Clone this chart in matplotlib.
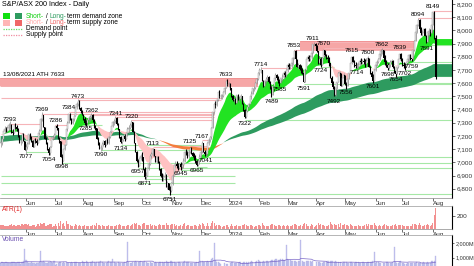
import numpy as np
import pandas as pd
import matplotlib
matplotlib.use("Agg")
import matplotlib.pyplot as plt
from matplotlib.patches import Rectangle
from matplotlib.lines import Line2D

plt.rcParams['font.family'] = ['Liberation Sans', 'DejaVu Sans']

# daily closes, one row per month (May 2023 -> Aug 2024)
close = [
    7150, 7175, 7240, 7255, 7240, 7260, 7280, 7285, 7230, 7225, 7280, 7270, 7250, 7200, 7155, 7155, 7215, 7165, 7090,
    7115, 7140, 7215, 7190, 7165, 7120, 7170, 7165, 7145, 7220, 7240, 7330, 7360, 7270, 7180, 7150, 7100, 7070, 7115, 7185, 7195, 7205,
    7275, 7260, 7180, 7160, 7040, 7010, 7100, 7130, 7250, 7300, 7370, 7330, 7300, 7325, 7350, 7420, 7440, 7465, 7410, 7390, 7360,
    7330, 7300, 7295, 7320, 7335, 7340, 7355, 7320, 7270, 7260, 7180, 7150, 7110, 7110, 7140, 7160, 7130, 7170, 7150, 7190, 7230, 7275, 7305,
    7310, 7335, 7290, 7250, 7190, 7155, 7170, 7200, 7180, 7220, 7250, 7260, 7285, 7305, 7230, 7150, 7080, 7010, 6975, 7030, 7050,
    7040, 6950, 6890, 6900, 6955, 6990, 7050, 7060, 7100, 7050, 7000, 7040, 7000, 6950, 6900, 6880, 6890, 6900, 6820, 6840, 6790, 6780,
    6840, 6900, 6980, 6990, 6975, 6960, 6985, 6965, 6980, 7010, 7080, 7070, 7050, 7080, 7110, 7070, 7050, 7040, 7010, 6980, 7010, 7040,
    7080, 7150, 7080, 7060, 7060, 7150, 7170, 7190, 7260, 7380, 7440, 7435, 7470, 7530, 7500, 7500, 7500, 7530, 7560, 7620, 7590,
    7590, 7560, 7500, 7470, 7480, 7450, 7510, 7480, 7480, 7500, 7440, 7400, 7345, 7390, 7420, 7440, 7500, 7520, 7560, 7560, 7600, 7630, 7680,
    7700, 7700, 7620, 7580, 7620, 7630, 7645, 7610, 7560, 7510, 7580, 7640, 7660, 7640, 7610, 7600, 7640, 7650, 7680, 7660, 7700,
    7740, 7720, 7730, 7750, 7790, 7840, 7780, 7720, 7740, 7710, 7700, 7680, 7610, 7700, 7780, 7800, 7780, 7800, 7830, 7895, 7895,
    7880, 7840, 7750, 7780, 7740, 7790, 7850, 7810, 7790, 7780, 7750, 7640, 7600, 7570, 7510, 7560, 7610, 7680, 7680, 7580, 7640, 7660,
    7590, 7575, 7630, 7680, 7750, 7800, 7760, 7740, 7730, 7730, 7740, 7770, 7760, 7770, 7760, 7745, 7770, 7790, 7720, 7680, 7650, 7620, 7700,
    7740, 7760, 7780, 7820, 7840, 7850, 7790, 7760, 7740, 7715, 7740, 7760, 7770, 7720, 7690, 7670, 7720, 7780, 7820, 7780,
    7740, 7730, 7720, 7760, 7780, 7810, 7790, 7780, 7850, 7920, 7990, 8040, 8080, 8010, 7980, 7980, 8010, 7960, 7910, 7990, 7990, 7980, 8040,
    8140, 7945, 7650,
]

# daily range (points)
day_range = [
    60, 55, 45, 50, 40, 45, 50, 55, 70, 45, 60, 45, 50, 65, 55, 40, 70, 60, 75,
    80, 55, 70, 45, 50, 55, 60, 35, 40, 55, 45, 95, 70, 90, 85, 50, 60, 65, 70, 40, 35, 45,
    50, 45, 85, 45, 95, 70, 80, 50, 110, 70, 65, 55, 45, 50, 45, 60, 55, 50, 65, 45, 40,
    45, 60, 50, 45, 40, 45, 50, 60, 65, 40, 85, 60, 55, 50, 60, 45, 50, 40, 45, 55, 50, 45, 40,
    45, 50, 60, 55, 70, 55, 50, 45, 50, 40, 65, 60, 45, 55, 80, 90, 70, 85, 60, 65, 50,
    70, 95, 90, 60, 55, 65, 80, 45, 60, 55, 50, 50, 55, 70, 65, 60, 55, 60, 100, 60, 55, 65,
    75, 80, 70, 45, 55, 50, 45, 60, 50, 70, 85, 45, 55, 60, 45, 50, 40, 55, 60, 45, 50, 70,
    60, 90, 55, 50, 45, 95, 50, 45, 90, 120, 85, 50, 55, 65, 60, 40, 35, 45, 50, 55, 60,
    35, 50, 70, 45, 40, 45, 55, 40, 45, 50, 55, 60, 70, 60, 45, 40, 45, 55, 50, 35, 50, 45, 60,
    55, 45, 85, 55, 45, 50, 45, 50, 65, 80, 60, 55, 50, 45, 55, 60, 45, 50, 60, 45, 50,
    65, 45, 40, 50, 60, 70, 75, 55, 50, 45, 60, 45, 80, 90, 55, 45, 40, 50, 70, 35, 30,
    40, 55, 95, 60, 70, 55, 60, 45, 40, 50, 65, 110, 70, 65, 80, 60, 55, 75, 30, 90, 50, 55,
    75, 60, 55, 50, 65, 60, 45, 50, 45, 40, 55, 50, 45, 40, 45, 55, 70, 50, 40, 60, 55, 65, 90,
    60, 45, 40, 55, 50, 45, 60, 70, 55, 50, 45, 50, 40, 60, 55, 70, 50, 65, 55, 60,
    55, 45, 50, 40, 45, 50, 45, 40, 75, 80, 70, 65, 60, 85, 55, 50, 45, 60, 55, 70, 60, 50, 65,
    70, 210, 330,
]

# volume (millions)
volume = [
    640, 700, 660, 620, 680, 650, 600, 640, 690, 700, 720, 610, 650, 700, 690, 560, 720, 760, 1600,
    820, 700, 620, 640, 680, 660, 600, 580, 610, 640, 700, 1470, 720, 760, 680, 660, 640, 690, 720, 700, 650, 800,
    520, 560, 640, 680, 720, 650, 700, 660, 720, 640, 610, 650, 690, 640, 680, 720, 700, 660, 640, 620, 760,
    700, 720, 780, 690, 640, 680, 720, 760, 700, 650, 720, 700, 680, 740, 720, 660, 650, 620, 700, 740, 700, 680, 880,
    680, 650, 640, 700, 660, 620, 600, 640, 680, 700, 2070, 700, 660, 640, 680, 720, 740, 700, 720, 680, 760,
    680, 720, 760, 700, 660, 620, 680, 640, 600, 620, 680, 660, 640, 700, 720, 680, 660, 700, 740, 700, 720, 800,
    760, 720, 700, 660, 640, 680, 700, 660, 620, 680, 760, 720, 700, 680, 640, 660, 600, 620, 650, 700, 680, 1450,
    800, 760, 700, 720, 680, 740, 720, 760, 880, 1000, 2000, 820, 700, 680, 640, 560, 300, 300, 620, 560, 540,
    300, 600, 680, 700, 640, 620, 660, 640, 680, 700, 620, 680, 720, 700, 660, 700, 680, 740, 720, 380, 700, 760, 820,
    760, 700, 720, 740, 700, 760, 780, 720, 800, 820, 860, 840, 880, 900, 860, 820, 880, 900, 860, 840, 1870,
    900, 860, 820, 800, 780, 760, 740, 720, 760, 780, 2200, 760, 720, 700, 740, 760, 780, 740, 720, 800, 300,
    300, 720, 700, 680, 660, 640, 680, 700, 720, 740, 760, 780, 800, 760, 720, 740, 700, 680, 300, 700, 660, 720,
    700, 680, 660, 640, 700, 680, 660, 640, 700, 720, 680, 640, 660, 700, 680, 660, 640, 700, 720, 680, 700, 740, 1400,
    660, 700, 680, 640, 620, 300, 660, 640, 700, 680, 640, 660, 620, 700, 1730, 680, 660, 640, 700, 760,
    620, 600, 580, 560, 600, 640, 620, 600, 640, 660, 620, 680, 640, 660, 620, 640, 680, 660, 640, 700, 660, 640, 760,
    780, 800, 1150,
]

# labelled swing points (bar index, value)
swing_highs = [(7, 7293), (31, 7369), (41, 7286), (51, 7384), (58, 7473), (68, 7362), (86, 7341), (98, 7320),
               (114, 7113), (142, 7125), (151, 7167), (169, 7633), (195, 7714), (220, 7853), (234, 7911),
               (242, 7870), (263, 7815), (275, 7800), (286, 7862), (299, 7839), (313, 8094), (324, 8149)]
swing_lows = [(19, 7077), (36, 7054), (46, 6998), (64, 7285), (75, 7090), (90, 7134), (103, 6957), (108, 6871),
              (127, 6751), (135, 6945), (147, 6965), (154, 7041), (183, 7322), (203, 7489), (209, 7585),
              (227, 7591), (240, 7724), (250, 7492), (259, 7556), (267, 7714), (279, 7601), (290, 7698),
              (296, 7654), (303, 7702), (308, 7759), (319, 7891)]

# demand / supply points: (level, from bar, to bar)
demand_pts = [(6760, 0, 338), (6845, 0, 176), (6895, 0, 176), (6998, 46, 338), (6957, 103, 338),
              (7041, 154, 338), (7077, 19, 36), (7090, 75, 150), (7134, 90, 150), (7285, 64, 76),
              (6871, 108, 127), (6945, 135, 150), (6965, 147, 155), (7322, 183, 338), (7489, 203, 338),
              (7591, 227, 338), (7724, 240, 250), (7601, 279, 338), (7698, 290, 296), (7654, 296, 338),
              (7702, 303, 338), (7759, 308, 338), (7891, 319, 338)]
supply_pts = [(7485, 0, 166), (7293, 7, 30), (7369, 31, 160), (7286, 41, 50), (7384, 51, 160),
              (7473, 58, 165), (7362, 68, 160), (7341, 86, 160), (7320, 98, 159), (7113, 114, 142),
              (7125, 142, 155), (7167, 151, 156), (7714, 195, 218), (7853, 220, 233), (7911, 234, 310),
              (7870, 242, 310), (8094, 313, 338), (8149, 324, 338)]
supply_zones = [(7575, 7640, 0, 193), (7851, 7921, 225, 310)]


def ema(values, n, seed):
    out = []
    e = seed
    a = 2.0 / (n + 1)
    for v in values:
        e = e + a * (v - e)
        out.append(e)
    return np.array(out)


close = np.array(close, float)
rng = np.array(day_range, float)
vol = np.array(volume, float)
n = len(close)
x = np.arange(n)
dates = pd.bdate_range("2023-05-05", periods=n)

o = np.r_[close[0], close[:-1]]
body = np.abs(close - o)
wick = np.maximum(rng - body, 0) / 2
hi = np.maximum(o, close) + wick
lo = np.minimum(o, close) - wick
tr = hi - lo

st_f = ema(close, 10, 7230)
st_s = ema(close, 35, 7220)
lt_f = ema(close, 120, 7200)
lt_s = ema(close, 190, 7155)

W, H = 474, 266
XMAX = 338.3


def box(top, bottom):
    return [0, 1 - bottom / H, 452 / W, (bottom - top) / H]


fig = plt.figure(figsize=(W / 100, H / 100), dpi=100)
ax = fig.add_axes(box(0, 198))
ax2 = fig.add_axes(box(206, 229), sharex=ax)
ax3 = fig.add_axes(box(235, 266), sharex=ax)

# zones and points
for a, b, x0, x1 in supply_zones:
    ax.fill_between([x0 - 0.5, x1], a, b, color="#f6a6a6", lw=0, zorder=1)
    ax.hlines([a, b], x0 - 0.5, x1, colors="#f08c8c", lw=0.5, zorder=1)
for lvl, x0, x1 in demand_pts:
    ax.hlines(lvl, x0, x1, colors="#a6e8a6", lw=0.8, zorder=1)
for lvl, x0, x1 in supply_pts:
    ax.hlines(lvl, x0, x1, colors="#f6b4b8", lw=0.8, zorder=1)

# ribbons
xe = np.r_[x, XMAX]
def ribbon(f, s, c_up, c_dn, z):
    f2 = np.r_[f, f[-1]]
    s2 = np.r_[s, s[-1]]
    up = f2 >= s2
    ax.fill_between(xe, f2, s2, where=up, color=c_up, lw=0, interpolate=True, zorder=z)
    ax.fill_between(xe, f2, s2, where=~up, color=c_dn, lw=0, interpolate=True, zorder=z)

ribbon(lt_f, lt_s, "#2e9b5f", "#f47c3c", 2)
ribbon(st_f, st_s, "#22e322", "#ffc2c2", 3)

# price bars
dn = close < o
upm = ~dn
ax.vlines(x[upm], lo[upm], hi[upm], color="#8c8c8c", lw=0.5, zorder=4)
ax.vlines(x[dn], lo[dn], hi[dn], color="black", lw=0.8, zorder=4)
ax.bar(x[upm], np.maximum(body[upm], 2), bottom=o[upm], width=0.75,
       facecolor="white", edgecolor="#8c8c8c", lw=0.3, zorder=5)
ax.bar(x[dn], np.maximum(body[dn], 2), bottom=close[dn], width=0.75,
       color="black", lw=0, zorder=5)

for i, v in swing_highs:
    ax.annotate(str(v), (i, v), xytext=(0, 1), textcoords="offset points",
                ha="center", va="bottom", fontsize=4.6, zorder=6)
for i, v in swing_lows:
    ax.annotate(str(v), (i, v), xytext=(0, -1), textcoords="offset points",
                ha="center", va="top", fontsize=4.6, zorder=6)

ax.text(3 / 452, 7645, "13/08/2021 ATH 7633", transform=ax.get_yaxis_transform(),
        va="bottom", fontsize=4.6, zorder=6)

ax.set_xlim(-0.5, XMAX)
ax.set_ylim(6730, 8230)
ax.set_yticks(np.arange(6800, 8201, 100))
ax.set_yticklabels([f"{v:,}" for v in range(6800, 8201, 100)])

# ATR
ax2.bar(x, tr, width=0.8, color="#f29090", lw=0)
ax2.set_ylim(0, 354)
ax2.set_yticks([200])
ax2.text(0.004, 0.78, "ATR(1)", transform=ax2.transAxes, color="#e02020", fontsize=4.8)

# volume
ax3.bar(x, vol, width=0.8, color="#c8c8f0", edgecolor="#a4a4e0", lw=0.2)
ax3.plot(x, pd.Series(vol).rolling(20, min_periods=1).mean(), color="#7b68c8", lw=0.5)
ax3.set_ylim(424, 2576)
ax3.set_yticks([1000, 2000])
ax3.set_yticklabels(["1,000M", "2,000M"])
ax3.text(0.004, 0.8, "Volume", transform=ax3.transAxes, color="#6a4fb0", fontsize=4.8)

# month ticks
ms = [i for i in range(1, n) if dates[i].month != dates[i - 1].month]
labels = ["2024" if dates[i].month == 1 else dates[i].strftime("%b") for i in ms]
ax.set_xticks(ms)
ax.set_xticklabels(labels)

for a in (ax, ax2, ax3):
    a.tick_params(axis="y", right=True, left=False, labelright=True, labelleft=False,
                  labelsize=4.6, length=2, pad=1.5, colors="#333333", width=0.5)
    a.tick_params(axis="x", labelsize=4.6, length=2, pad=0.5, colors="#333333", width=0.5)
    a.spines["left"].set_visible(False)
    a.spines["right"].set_color("black")
    a.spines["right"].set_linewidth(0.8)
    a.spines["top"].set_color("#999999")
    a.spines["top"].set_linewidth(0.5)
    a.spines["bottom"].set_color("#888888")
    a.spines["bottom"].set_linewidth(0.5)
    for t in a.get_xticklabels():
        t.set_ha("left")
ax.spines["top"].set_visible(False)
ax3.spines["bottom"].set_visible(False)
ax3.tick_params(axis="x", bottom=False, labelbottom=False)
ax3.tick_params(axis="y", labelsize=4.0, pad=1, length=1.5)

# header and legend
fig.text(2 / W, 1 - 4 / H, "S&P/ASX 200 Index - Daily", fontsize=5.2, va="center")

def px(xp, yp):
    return xp / W, 1 - yp / H

for xp, yp, c in [(3, 13, "#10e010"), (15, 13, "#2e9b5f"), (3, 20, "#ffb6b6"), (15, 20, "#f06868")]:
    fig.add_artist(Rectangle(px(xp, yp + 6), 7 / W, 6 / H, transform=fig.transFigure,
                             color=c, lw=0))
fig.add_artist(Line2D([3 / W, 22 / W], [1 - 29 / H] * 2, transform=fig.transFigure,
                      color="#66dd66", lw=0.9, ls=(0, (1, 1))))
fig.add_artist(Line2D([3 / W, 22 / W], [1 - 35 / H] * 2, transform=fig.transFigure,
                      color="#f08ca0", lw=0.9, ls=(0, (1, 1))))

renderer = fig.canvas.get_renderer()

def seq_text(xp, yp, parts):
    xf, yf = px(xp, yp)
    for s, c in parts:
        t = fig.text(xf, yf, s, color=c, fontsize=4.8, va="center", ha="left")
        xf += t.get_window_extent(renderer=renderer).width / fig.bbox.width

seq_text(26, 16, [("Short-", "#10d010"), (" / ", "black"), ("Long-", "#2e9b5f"), ("term demand zone", "black")])
seq_text(26, 23, [("Short-", "#ffaaaa"), (" / ", "black"), ("Long-", "#f06868"), ("term supply zone", "black")])
seq_text(26, 29, [("Demand point", "black")])
seq_text(26, 35, [("Supply point", "black")])

fig.savefig("out.png", dpi=100)
